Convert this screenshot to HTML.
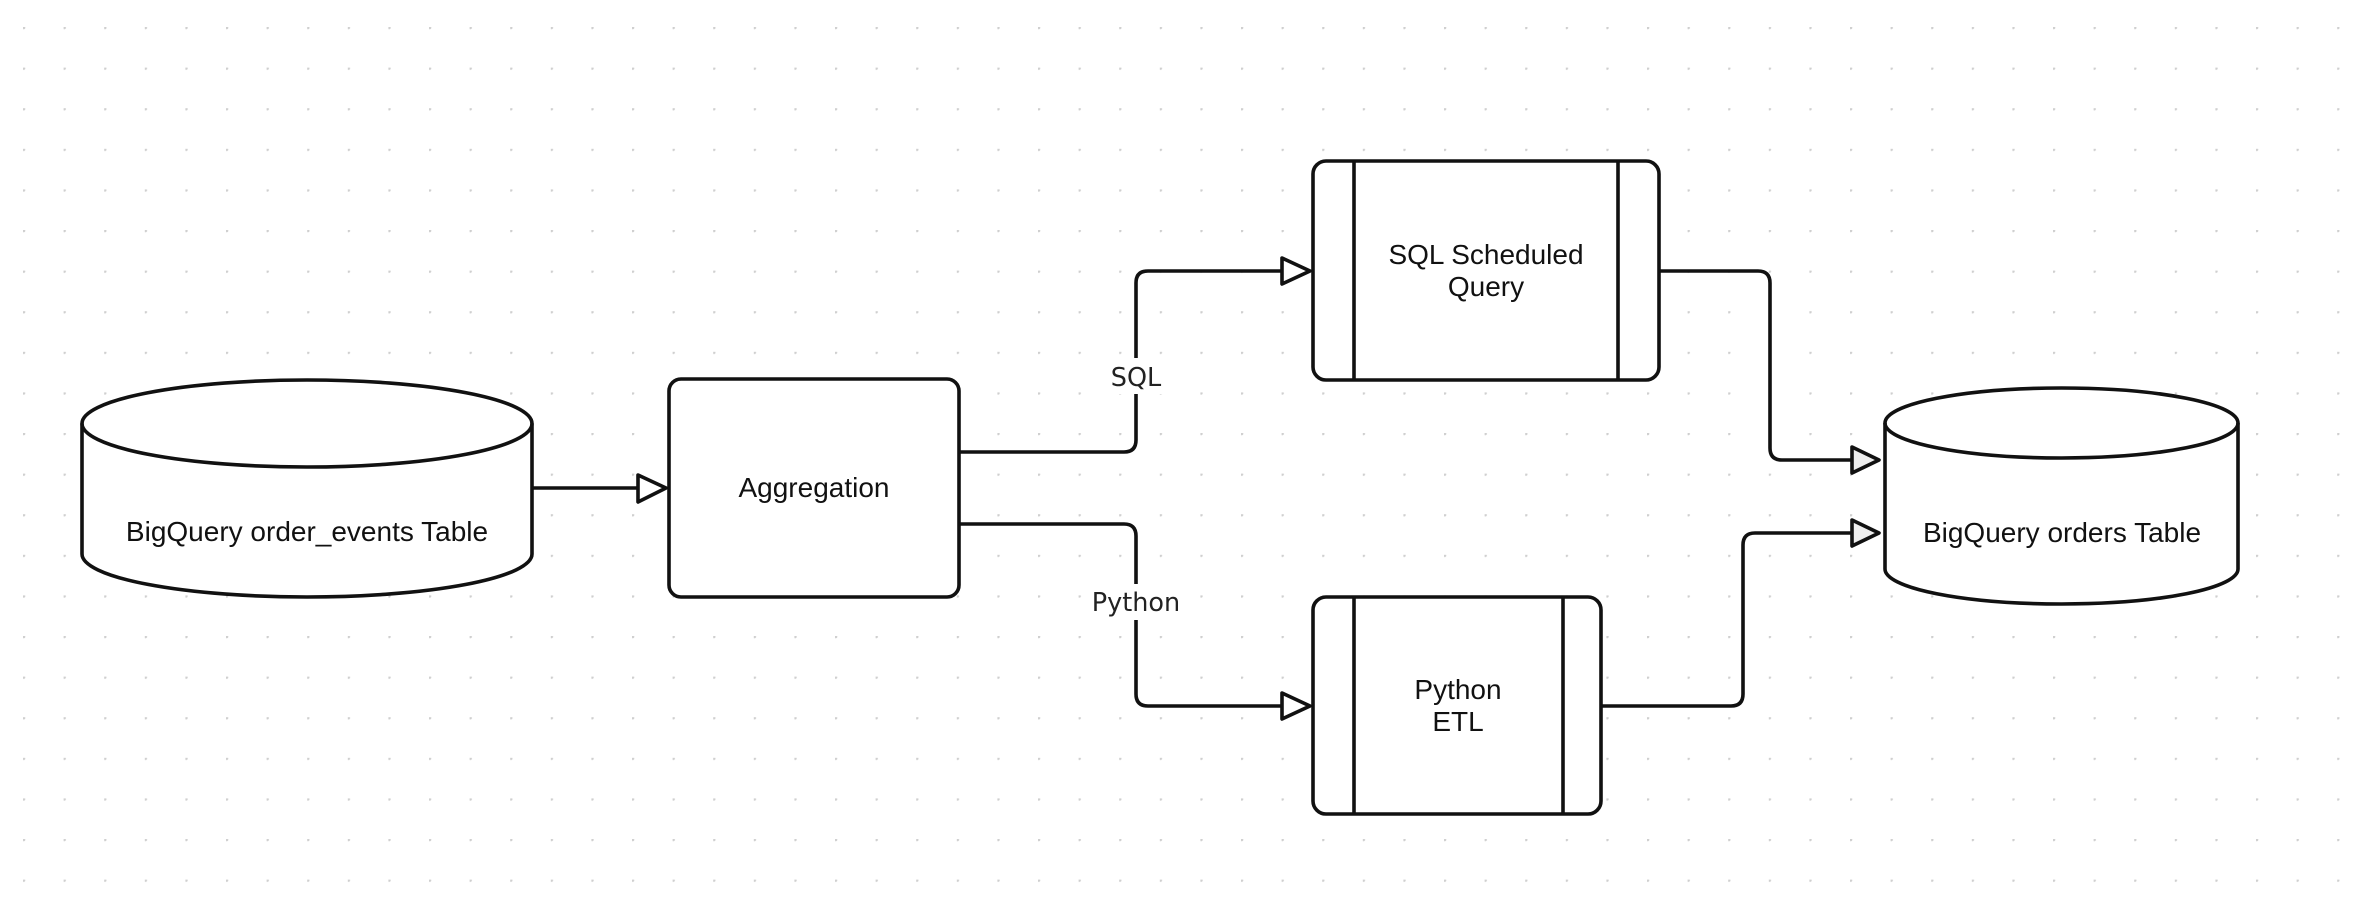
<!DOCTYPE html>
<html><head><meta charset="utf-8"><style>
html,body{margin:0;padding:0;background:#fff;}
svg{display:block;}
.t{font-family:"Liberation Sans",Arial,sans-serif;font-size:28px;fill:#111;text-anchor:middle;}
.l{font-family:"DejaVu Sans",sans-serif;font-size:25.5px;fill:#222;text-anchor:middle;}
</style></head><body>
<svg width="2354" height="898" viewBox="0 0 2354 898" xmlns="http://www.w3.org/2000/svg">
<defs>
<pattern id="g" x="23" y="27" width="40.6" height="40.6" patternUnits="userSpaceOnUse">
<circle cx="0.8" cy="0.8" r="1.5" fill="#cfcfcf"/>
</pattern>
</defs>
<rect width="2354" height="898" fill="#fff"/>
<rect width="2354" height="898" fill="url(#g)"/>
<g fill="none" stroke="#111" stroke-width="3.6" stroke-linejoin="round">
<path d="M82 423.5 A225 43.5 0 0 1 532 423.5 L532 554 A225 43 0 0 1 82 554 Z" fill="#fff"/>
<path d="M82 423.5 A225 43.5 0 0 0 532 423.5"/>
<line x1="532" y1="488" x2="638" y2="488"/>
<polygon points="638,475 666,488 638,502" fill="#fff"/>
<rect x="669" y="379" width="290" height="218" rx="12" fill="#fff"/>
<path d="M959 452 L1124 452 Q1136 452 1136 440 L1136 283 Q1136 271 1148 271 L1282 271"/>
<polygon points="1282,258 1310,271 1282,284" fill="#fff"/>
<path d="M959 524 L1124 524 Q1136 524 1136 536 L1136 694 Q1136 706 1148 706 L1282 706"/>
<polygon points="1282,693 1310,706 1282,719" fill="#fff"/>
<rect x="1313" y="161" width="346" height="219" rx="13" fill="#fff"/>
<line x1="1354" y1="161" x2="1354" y2="380"/>
<line x1="1618" y1="161" x2="1618" y2="380"/>
<rect x="1313" y="597" width="288" height="217" rx="13" fill="#fff"/>
<line x1="1354" y1="597" x2="1354" y2="814"/>
<line x1="1563" y1="597" x2="1563" y2="814"/>
<path d="M1659 271 L1758 271 Q1770 271 1770 283 L1770 448 Q1770 460 1782 460 L1852 460"/>
<polygon points="1852,447 1879,460 1852,473" fill="#eee"/>
<path d="M1601 706 L1731 706 Q1743 706 1743 694 L1743 545 Q1743 533 1755 533 L1852 533"/>
<polygon points="1852,520 1879,533 1852,546" fill="#eee"/>
<path d="M1885 423 A176.5 35 0 0 1 2238 423 L2238 569 A176.5 35 0 0 1 1885 569 Z" fill="#fff"/>
<path d="M1885 423 A176.5 35 0 0 0 2238 423"/>
</g>
<rect x="1104" y="358" width="64" height="36" fill="#fff"/>
<text class="l" x="1136" y="386">SQL</text>
<rect x="1086" y="584" width="100" height="36" fill="#fff"/>
<text class="l" x="1136" y="611">Python</text>
<text class="t" x="307" y="541">BigQuery order_events Table</text>
<text class="t" x="814" y="497">Aggregation</text>
<text class="t" x="1486" y="264">SQL Scheduled</text>
<text class="t" x="1486" y="296">Query</text>
<text class="t" x="1458" y="699">Python</text>
<text class="t" x="1458" y="731">ETL</text>
<text class="t" x="2062" y="542">BigQuery orders Table</text>
</svg>
</body></html>
